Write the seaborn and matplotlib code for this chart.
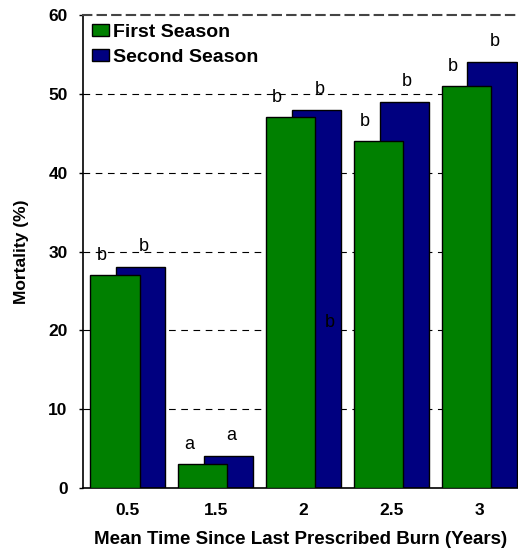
import numpy as np
import pandas as pd
import matplotlib
matplotlib.use("Agg")
import matplotlib.pyplot as plt
import seaborn as sns
from matplotlib.patches import Patch

categories = ["0.5", "1.5", "2", "2.5", "3"]
first_season = [27, 3, 47, 44, 51]
second_season = [28, 4, 48, 49, 54]
first_letters = ["b", "a", "b", "b", "b"]
second_letters = ["b", "a", "b", "b", "b"]
series_names = ["First Season", "Second Season"]
colors = ["#008000", "#000080"]

sns.set_theme(style="white")
plt.rcParams['font.family'] = ['Liberation Sans', 'DejaVu Sans']
plt.rcParams['text.color'] = 'black'
plt.rcParams['axes.labelcolor'] = 'black'
plt.rcParams['xtick.color'] = 'black'
plt.rcParams['ytick.color'] = 'black'

fig = plt.figure(figsize=(5.18, 5.48), dpi=100)
ax = fig.add_axes([0.160, 0.1095, 0.84, 0.8631])

idx = np.arange(len(categories))
off = 0.145
df2 = pd.DataFrame({"x": idx + off, "y": second_season})
df1 = pd.DataFrame({"x": idx - off, "y": first_season})

for yv in [10, 20, 30, 40, 50]:
    ax.axhline(yv, color="black", lw=0.8, ls=(0, (6, 5)), zorder=0)

sns.barplot(data=df2, x="x", y="y", native_scale=True, width=0.56,
            color=colors[1], saturation=1, edgecolor="black", linewidth=1,
            ax=ax, zorder=2)
sns.barplot(data=df1, x="x", y="y", native_scale=True, width=0.56,
            color=colors[0], saturation=1, edgecolor="black", linewidth=1,
            ax=ax, zorder=3)

for i in idx:
    ax.text(i - 0.30, first_season[i] + 2.5, first_letters[i], ha="center",
            va="center", fontsize=13, color="black", zorder=5)
    ax.text(i + 0.18, second_season[i] + 2.6, second_letters[i], ha="center",
            va="center", fontsize=13, color="black", zorder=5)
# stray label inside the second-season bar at "2"
ax.text(2 + 0.30, 21, "b", ha="center", va="center", fontsize=13,
        color="black", zorder=5)

ax.set_xlim(-0.51, 4.44)
ax.set_ylim(0, 60)
ax.set_xticks(idx)
ax.set_xticklabels(categories, fontsize=12.5, fontweight="bold")
ax.set_yticks([0, 10, 20, 30, 40, 50, 60])
ax.set_yticklabels(["0", "10", "20", "30", "40", "50", "60"], fontsize=12.5,
                   fontweight="bold")
ax.tick_params(axis="x", length=0, pad=11)
ax.tick_params(axis="y", length=3, width=1, direction="out", pad=8, left=True)
ax.set_xlabel("Mean Time Since Last Prescribed Burn (Years)", fontsize=13.5,
              fontweight="bold", labelpad=9)
ax.set_ylabel("Mortality (%)", fontsize=12.5, fontweight="bold", labelpad=14)

for s in ["left", "bottom"]:
    ax.spines[s].set_color("black")
    ax.spines[s].set_linewidth(1.2)
ax.spines["right"].set_visible(False)
ax.spines["top"].set_color("#444444")
ax.spines["top"].set_linewidth(1.5)
ax.spines["top"].set_linestyle((0, (4, 3)))

handles = [Patch(facecolor=c, edgecolor="black", label=n)
           for c, n in zip(colors, series_names)]
ax.legend(handles=handles, loc="upper left", bbox_to_anchor=(0.0, 1.0),
          frameon=False, prop={"weight": "bold", "size": 14},
          handlelength=0.88, handleheight=0.57, handletextpad=0.2,
          labelspacing=0.4, borderaxespad=0.15, borderpad=0.3)

fig.savefig("out.png", dpi=100)
